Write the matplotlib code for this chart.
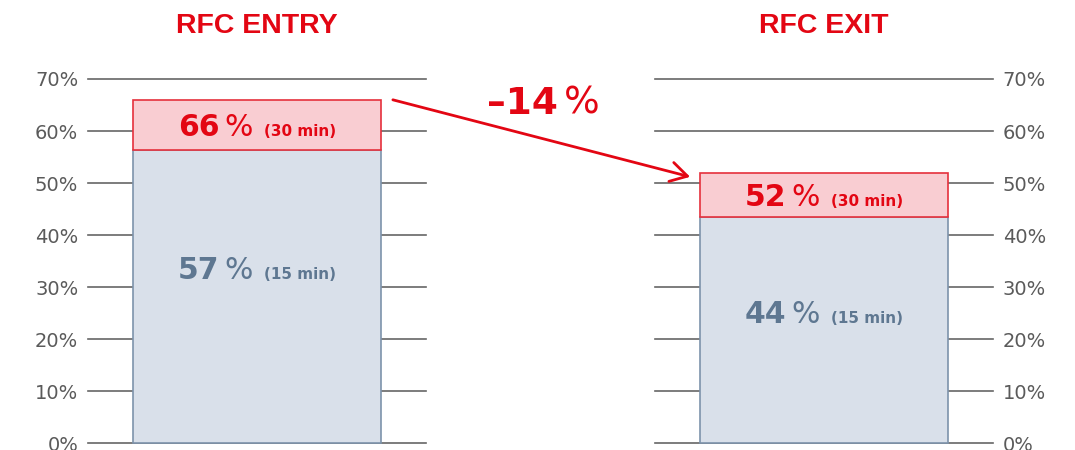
import matplotlib.pyplot as plt

# values (percent)
panels = ['RFC ENTRY', 'RFC EXIT']
share_15 = [56.3, 43.5]      # drawn height of the 15 min part
share_30 = [66, 52]          # drawn height of the 30 min part
label_15 = ['57', '44']
label_30 = ['66', '52']
change = '–14'
ticks = [0, 10, 20, 30, 40, 50, 60, 70]

red = '#e30613'
pink = '#f9cdd2'
blue_fill = '#d9e0ea'
blue_edge = '#7d93ab'
blue_text = '#5e7791'
grid = '#666666'

fig = plt.figure(figsize=(10.75, 4.5), dpi=100)
ax1 = fig.add_axes([88 / 1075, 1 - 443.3 / 450, 338 / 1075, 364.3 / 450])
ax2 = fig.add_axes([655 / 1075, 1 - 443.3 / 450, 338 / 1075, 364.3 / 450])

pieces = []


def bar_label(ax, y, num, note, color):
    # number bold, % regular, note small bold; centred as a group later
    kw = dict(xy=(0, y), xycoords='data', textcoords='offset pixels',
              va='baseline', ha='left', color=color, annotation_clip=False)
    t1 = ax.annotate(num, xytext=(0, 0), fontsize=21.5, fontweight='bold', **kw)
    t2 = ax.annotate('%', xytext=(0, 0), fontsize=21.5, **kw)
    t3 = ax.annotate(note, xytext=(0, 0), fontsize=11, fontweight='bold', **kw)
    pieces.append((t1, t2, t3))


for i, ax in enumerate([ax1, ax2]):
    for t in ticks:
        ax.axhline(t, color=grid, lw=1.2, zorder=0, clip_on=False)
    ax.bar(0, share_15[i], width=0.734, color=blue_fill, edgecolor=blue_edge,
           lw=1.2, zorder=2, clip_on=False)
    ax.bar(0, share_30[i] - share_15[i], bottom=share_15[i], width=0.734,
           color=pink, edgecolor='#e5303c', lw=1.2, zorder=3, clip_on=False)
    ax.set_xlim(-0.5, 0.5)
    ax.set_ylim(0, 70)
    ax.set_xticks([])
    ax.set_yticks(ticks)
    ax.set_yticklabels([f'{t}%' for t in ticks])
    ax.tick_params(length=0, pad=7, labelsize=14, labelcolor='#5a5a5a')
    for s in ax.spines.values():
        s.set_visible(False)
    ax.patch.set_visible(False)
    ax.text(0.5, 1.145, panels[i], transform=ax.transAxes, ha='center', va='center',
            fontsize=20.5, fontweight='bold', color=red, family='Liberation Sans')
    bar_label(ax, (share_15[i] + share_30[i]) / 2, label_30[i], '(30 min)', red)
    bar_label(ax, [33.7, 25.2][i], label_15[i], '(15 min)', blue_text)

ax2.yaxis.tick_right()

# arrow from entry bar top to exit bar top
ax2.annotate('', xy=(-0.396, share_30[1] - 0.8), xycoords=ax2.transData,
             xytext=(0.402, share_30[0]), textcoords=ax1.transData,
             arrowprops=dict(arrowstyle='->,head_length=0.6,head_width=0.35',
                             mutation_scale=20, color=red, lw=2,
                             shrinkA=0, shrinkB=0),
             annotation_clip=False)

# change label
c1 = fig.text(0, 0, change, fontsize=27, fontweight='bold', color=red, va='baseline')
c2 = fig.text(0, 0, '%', fontsize=27, color=red, va='baseline')

fig.canvas.draw()
r = fig.canvas.get_renderer()
for t1, t2, t3 in pieces:
    w1 = t1.get_window_extent(r).width
    w2 = t2.get_window_extent(r).width
    w3 = t3.get_window_extent(r).width
    total = w1 + 5 + w2 + 11 + w3
    x0 = -total / 2
    t1.set_position((x0, -11))
    t2.set_position((x0 + w1 + 5, -11))
    t3.set_position((x0 + w1 + 5 + w2 + 11, -11))

w1 = c1.get_window_extent(r).width
w2 = c2.get_window_extent(r).width
x0 = 543 - (w1 + 6 + w2) / 2
base = 450 - 114
c1.set_position((x0 / 1075, base / 450))
c2.set_position(((x0 + w1 + 6) / 1075, base / 450))

fig.savefig('out.png', dpi=100)
